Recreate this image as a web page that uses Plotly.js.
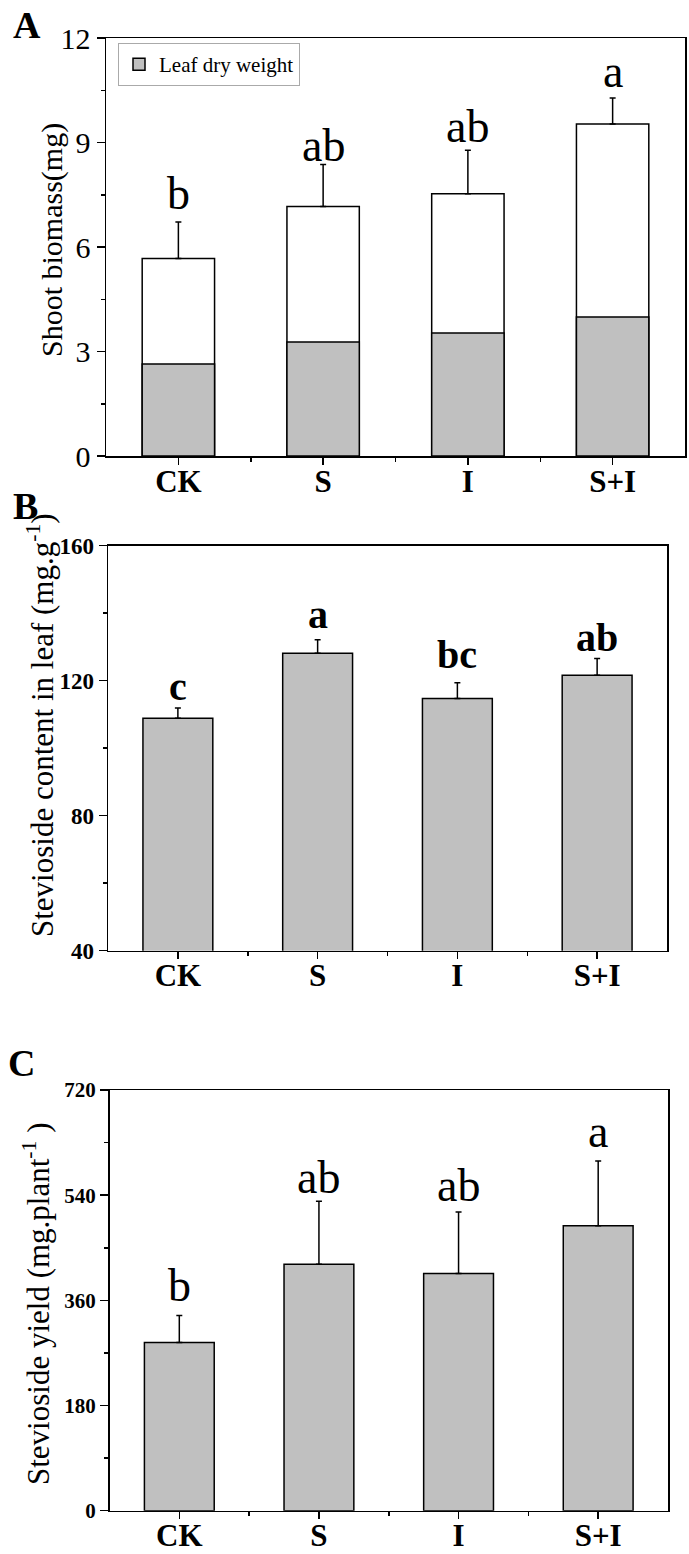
<!DOCTYPE html>
<html>
<head>
<meta charset="utf-8">
<script src="https://cdn.plot.ly/plotly-3.0.1.min.js"></script>
<style>
html,body{margin:0;padding:0;background:#fff;}
#chart{width:689px;height:1554px;}
</style>
</head>
<body>
<div id="chart"></div>
<script>
// ---------- data ----------
const categories = ['CK', 'S', 'I', 'S+I'];

// Panel A: shoot biomass (mg)
const shootBiomass = [5.67, 7.16, 7.53, 9.53];
const shootBiomassErr = [1.05, 1.21, 1.25, 0.75];
const leafDryWeight = [2.64, 3.27, 3.53, 3.99];
const lettersA = ['b', 'ab', 'ab', 'a'];
const lettersAPos = [7.06, 8.44, 8.99, 10.57];
const yTicksA = [0, 3, 6, 9, 12];
const yMinorA = [1.5, 4.5, 7.5, 10.5];

// Panel B: stevioside content in leaf (mg/g)
const steviosideContent = [108.9, 128.1, 114.7, 121.6];
const steviosideContentErr = [3.0, 4.0, 4.7, 5.0];
const lettersB = ['c', 'a', 'bc', 'ab'];
const lettersBPos = [113.8, 135.0, 123.2, 128.1];
const yTicksB = [40, 80, 120, 160];
const yMinorB = [60, 100, 140];

// Panel C: stevioside yield (mg/plant)
const steviosideYield = [288, 421.6, 406, 487.7];
const steviosideYieldErr = [46, 108, 105, 111];
const lettersC = ['b', 'ab', 'ab', 'a'];
const lettersCPos = [357.6, 542, 528.7, 620];
const yTicksC = [0, 180, 360, 540, 720];
const yMinorC = [90, 270, 450, 630];

// ---------- helpers ----------
const W = 689, H = 1554;
const FONT = 'Liberation Serif, Times New Roman, serif';
const xIdx = categories.map((_, i) => i);
const xMinor = [0.5, 1.5, 2.5];
const zeros = categories.map(() => 0);
const px = v => v / W;
const py = v => 1 - v / H;

function errBar(arr) {
  return {type: 'data', array: arr, arrayminus: zeros, symmetric: false,
          visible: true, color: '#000', thickness: 1.5, width: 3};
}
const outline = {color: '#000', width: 1.5};

function xAxis(d0, d1, anchor) {
  return {
    domain: [px(d0), px(d1)], anchor: anchor, range: [-0.5, 3.5],
    tickmode: 'array', tickvals: xIdx, ticktext: categories,
    ticks: 'outside', ticklen: 7, tickwidth: 1.5, tickcolor: '#000',
    minor: {tickmode: 'array', tickvals: xMinor, ticks: 'outside', ticklen: 4, tickwidth: 1.5, tickcolor: '#000'},
    showline: true, linecolor: '#000', linewidth: 1.5, mirror: true,
    showgrid: false, zeroline: false, fixedrange: true,
    ticklabelstandoff: -10,
    tickfont: {family: FONT, size: 31, color: '#000', weight: 'bold'}
  };
}
function yAxis(top, bottom, anchor, range, ticks, minor, font) {
  return {
    domain: [py(bottom), py(top)], anchor: anchor, range: range,
    tickmode: 'array', tickvals: ticks,
    ticks: 'outside', ticklen: 8, tickwidth: 1.5, tickcolor: '#000',
    minor: {tickmode: 'array', tickvals: minor, ticks: 'outside', ticklen: 4, tickwidth: 1.5, tickcolor: '#000'},
    showline: true, linecolor: '#000', linewidth: 1.5, mirror: true,
    showgrid: false, zeroline: false, fixedrange: true,
    tickfont: font
  };
}

// ---------- traces ----------
const traces = [
  {type: 'bar', x: xIdx, y: shootBiomass, width: 0.5, xaxis: 'x', yaxis: 'y',
   marker: {color: '#ffffff', line: outline}, error_y: errBar(shootBiomassErr),
   showlegend: false, name: 'Shoot biomass', hoverinfo: 'y'},
  {type: 'bar', x: xIdx, y: leafDryWeight, width: 0.5, xaxis: 'x', yaxis: 'y',
   marker: {color: '#c0c0c0', line: outline},
   showlegend: true, name: 'Leaf dry weight', hoverinfo: 'y'},
  {type: 'bar', x: xIdx, y: steviosideContent, width: 0.5, xaxis: 'x2', yaxis: 'y2',
   marker: {color: '#c0c0c0', line: outline}, error_y: errBar(steviosideContentErr),
   showlegend: false, name: 'Stevioside content', hoverinfo: 'y'},
  {type: 'bar', x: xIdx, y: steviosideYield, width: 0.5, xaxis: 'x3', yaxis: 'y3',
   marker: {color: '#c0c0c0', line: outline}, error_y: errBar(steviosideYieldErr),
   showlegend: false, name: 'Stevioside yield', hoverinfo: 'y'}
];

// ---------- annotations ----------
const annotations = [];
function letters(arr, pos, xref, yref, font, shift) {
  arr.forEach((t, i) => annotations.push({
    x: xIdx[i], y: pos[i], xref: xref, yref: yref, text: t, showarrow: false,
    xanchor: 'center', yanchor: 'bottom', yshift: shift, font: font
  }));
}
const letterFont = {family: FONT, size: 46, color: '#000'};
const letterFontBold = {family: FONT, size: 40, color: '#000', weight: 'bold'};
letters(lettersA, lettersAPos, 'x', 'y', letterFont, -11);
letters(lettersB, lettersBPos, 'x2', 'y2', letterFontBold, -9);
letters(lettersC, lettersCPos, 'x3', 'y3', letterFont, -11);

function panelLabel(t, x, y) {
  annotations.push({x: px(x), y: py(y), xref: 'paper', yref: 'paper', text: t, showarrow: false,
    xanchor: 'center', yanchor: 'middle', font: {family: FONT, size: 38, color: '#000', weight: 'bold'}});
}
panelLabel('A', 27, 25);
panelLabel('B', 25, 506);
panelLabel('C', 21, 1063);

function yTitle(t, x, y, size) {
  annotations.push({x: px(x), y: py(y), xref: 'paper', yref: 'paper', text: t, showarrow: false,
    textangle: -90, xanchor: 'center', yanchor: 'middle', font: {family: FONT, size: size, color: '#000'}});
}
yTitle('Shoot biomass(mg)', 52, 240, 30);
yTitle('Stevioside content in leaf (mg.g<sup>-1</sup>)', 40, 725, 31);
yTitle('Stevioside yield (mg.plant<sup>-1</sup> )', 36, 1304, 31);

// ---------- layout ----------
const layout = {
  width: W, height: H,
  margin: {l: 0, r: 0, t: 0, b: 0, pad: 0},
  paper_bgcolor: '#fff', plot_bgcolor: '#fff',
  barmode: 'overlay',
  font: {family: FONT, color: '#000'},
  showlegend: true,
  legend: {x: px(118), y: py(43), xanchor: 'left', yanchor: 'top',
           bgcolor: '#fff', bordercolor: '#aaaaaa', borderwidth: 1,
           font: {family: FONT, size: 21, color: '#000'}},
  xaxis: xAxis(106, 685, 'y'),
  yaxis: yAxis(38, 456, 'x', [0, 12], yTicksA, yMinorA, {family: FONT, size: 30, color: '#000'}),
  xaxis2: xAxis(108, 667, 'y2'),
  yaxis2: yAxis(545.7, 950.7, 'x2', [40, 160], yTicksB, yMinorB, {family: FONT, size: 23, color: '#000', weight: 'bold'}),
  xaxis3: xAxis(109.5, 668, 'y3'),
  yaxis3: yAxis(1090, 1510.7, 'x3', [0, 720], yTicksC, yMinorC, {family: FONT, size: 21, color: '#000', weight: 'bold'}),
  annotations: annotations
};

Plotly.newPlot('chart', traces, layout, {displayModeBar: false, staticPlot: true});
</script>
</body>
</html>
